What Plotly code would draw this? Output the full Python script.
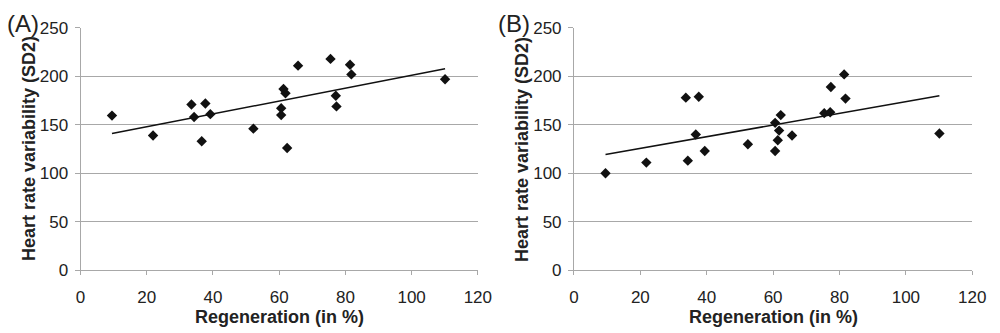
import numpy as np
import plotly.graph_objects as go

# Panel A data
regen_a = [9.5, 21.9, 33.5, 34.3, 36.6, 37.7, 39.2, 52.2, 60.6, 60.6,
           61.3, 61.9, 62.4, 65.7, 75.5, 77.1, 77.3, 81.4, 81.8, 110.1]
hrv_a = [159.5, 139, 171, 158, 133, 172, 161, 146, 167, 160,
         187, 182.5, 126, 211, 218, 180, 169, 212, 202, 197]

# Panel B data
regen_b = [9.5, 21.8, 33.7, 34.3, 36.7, 37.6, 39.4, 52.4, 60.6, 60.6,
           61.4, 61.8, 62.3, 65.7, 75.4, 77.2, 77.4, 81.4, 81.8, 110.1]
hrv_b = [100, 111, 178, 113, 140, 179, 123, 130, 152, 123,
         134, 144, 160, 139, 162, 163, 189, 202, 177, 141]

x_ticks = [0, 20, 40, 60, 80, 100, 120]
y_ticks = [0, 50, 100, 150, 200, 250]
panel_labels = ["(A)", "(B)"]
x_title = "Regeneration (in %)"
y_title = "Heart rate variability (SD2)"

FONT = "Liberation Sans, Arial, sans-serif"
GRID = "#a8a8a8"

fig = go.Figure()

def add_panel(xs, ys, xa, ya):
    fig.add_trace(go.Scatter(
        x=xs, y=ys, mode="markers", xaxis=xa, yaxis=ya,
        marker=dict(symbol="diamond", size=8, color="#111111"),
        showlegend=False))
    m, b = np.polyfit(xs, ys, 1)
    lx = [min(xs), max(xs)]
    ly = [m * v + b for v in lx]
    fig.add_trace(go.Scatter(
        x=lx, y=ly, mode="lines", xaxis=xa, yaxis=ya,
        line=dict(color="#111111", width=1.5), showlegend=False))

add_panel(regen_a, hrv_a, "x", "y")
add_panel(regen_b, hrv_b, "x2", "y2")

ydom = [(333 - 277) / 333, (333 - 20) / 333]

xcommon = dict(range=[0, 120], tickvals=x_ticks, showgrid=False, zeroline=False,
               showline=True, linecolor=GRID, linewidth=1, ticks="outside",
               ticklen=4, tickcolor=GRID, ticklabelstandoff=7,
               tickfont=dict(size=17, color="#222"))
ycommon = dict(range=[0, 250], tickvals=y_ticks, showgrid=True, gridcolor=GRID,
               gridwidth=1, zeroline=False, showline=True, linecolor=GRID,
               linewidth=1, ticks="outside", ticklen=5, tickcolor=GRID,
               ticklabelstandoff=3, tickfont=dict(size=17, color="#222"))

fig.update_layout(
    width=1000, height=333,
    margin=dict(l=0, r=0, t=0, b=0),
    paper_bgcolor="white", plot_bgcolor="white",
    font=dict(family=FONT, color="#222"),
    xaxis=dict(domain=[0.077, 0.482], anchor="y", **xcommon),
    yaxis=dict(domain=ydom, anchor="x", **ycommon),
    xaxis2=dict(domain=[0.580, 0.986], anchor="y2", **xcommon),
    yaxis2=dict(domain=ydom, anchor="x2", **ycommon),
)

annots = []
for i, (xc, yc, lx) in enumerate([(0.2795, 0.0245, 0.0), (0.783, 0.527, 0.5)]):
    annots.append(dict(text="<b>" + x_title + "</b>", x=xc, y=(333 - 327) / 333,
                       xref="paper", yref="paper", xanchor="center", yanchor="middle",
                       showarrow=False, font=dict(size=18, family=FONT, color="#222")))
    annots.append(dict(text="<b>" + y_title + "</b>", x=yc, y=(333 - 148.5) / 333,
                       xref="paper", yref="paper", xanchor="center", yanchor="middle",
                       textangle=-90, showarrow=False,
                       font=dict(size=18, family=FONT, color="#222")))
    annots.append(dict(text=panel_labels[i], x=lx, y=(333 - 15) / 333,
                       xref="paper", yref="paper", xanchor="left", yanchor="middle",
                       showarrow=False, font=dict(size=24, family=FONT, color="#222")))
fig.update_layout(annotations=annots)

fig.write_html("out.html")
